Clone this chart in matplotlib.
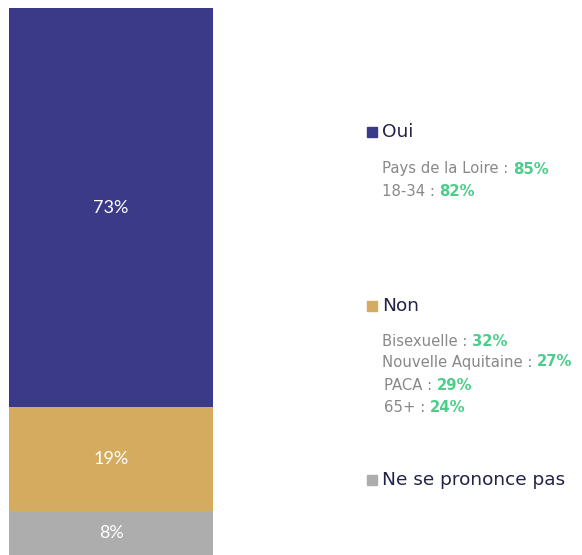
import matplotlib
matplotlib.use("Agg")
import matplotlib.pyplot as plt
from matplotlib.patches import Rectangle

plt.rcParams['font.family'] = ['DejaVu Sans']

categories = ["Ne se prononce pas", "Non", "Oui"]
values = [8, 19, 73]
colors = ["#adadad", "#d4ab5f", "#3a3a89"]

# details per answer (label, value)
oui_details = [("Pays de la Loire : ", "85%"), ("18-34 : ", "82%")]
non_details = [("Bisexuelle : ", "32%"), ("Nouvelle Aquitaine : ", "27%"),
               ("PACA : ", "29%"), ("65+ : ", "24%")]

W, H = 582, 555
fig = plt.figure(figsize=(W / 100, H / 100), dpi=100)

# stacked bar
ax = fig.add_axes([9 / W, 0, 204 / W, 547 / H])
bottom = 0
for cat, v, c in zip(categories, values, colors):
    ax.bar(0, v, bottom=bottom, width=1, color=c)
    ax.text(0, bottom + v / 2, f"{v}%", ha="center", va="center",
            color="white", fontsize=13, family="Lato")
    bottom += v
ax.set_xlim(-0.5, 0.5)
ax.set_ylim(0, 100)
ax.axis("off")

def fx(px):
    return px / W

def fy(py):
    return 1 - py / H

gray = "#888888"
green = "#4cce8a"
dark = "#23234a"

def legend_item(py, name, color):
    fig.patches.append(Rectangle((fx(367), fy(py + 5)), 10 / W, 10 / H,
                                 transform=fig.transFigure, color=color))
    fig.text(fx(382), fy(py), name, ha="left", va="center",
             fontsize=13.3, color=dark)

def detail_line(px, py, label, val):
    t = fig.text(fx(px), fy(py), label, ha="left", va="center",
                 fontsize=10.7, color=gray)
    fig.canvas.draw()
    bb = t.get_window_extent()
    fig.text(bb.x1 / W, fy(py), val, ha="left", va="center",
             fontsize=10.7, color=green, fontweight="bold")

legend_item(132, "Oui", colors[2])
for (lab, val), py in zip(oui_details, [169, 191]):
    detail_line(382, py, lab, val)

legend_item(306, "Non", colors[1])
for (lab, val), py, px in zip(non_details, [341, 362, 386, 408], [382, 382, 384, 384]):
    detail_line(px, py, lab, val)

legend_item(480, "Ne se prononce pas", colors[0])

fig.savefig("out.png", dpi=100)
